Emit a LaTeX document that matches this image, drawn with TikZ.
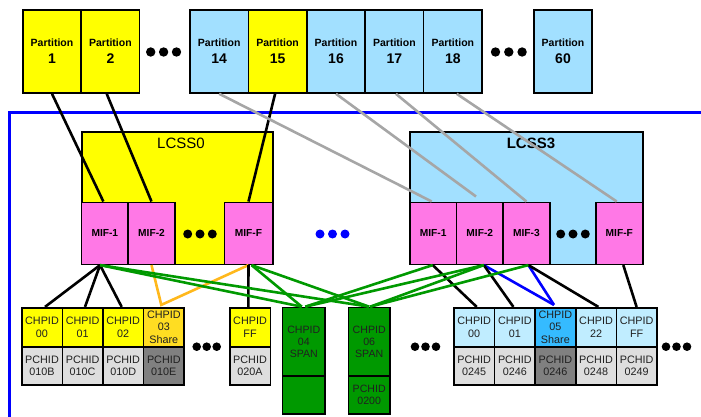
\documentclass[tikz,border=0pt]{standalone}
\usepackage{fontspec}
\setmainfont{Liberation Sans}
\definecolor{pyel}{HTML}{FFFF00}
\definecolor{pblue}{HTML}{A2E0FF}
\definecolor{cblue}{HTML}{C0EDFF}
\definecolor{sblue}{HTML}{35BBFF}
\definecolor{syel}{HTML}{FFDD22}
\definecolor{pink}{HTML}{FF78E6}
\definecolor{lgrey}{HTML}{DEDEDE}
\definecolor{dgrey}{HTML}{808080}
\definecolor{gbox}{HTML}{009900}
\definecolor{gline}{HTML}{009900}
\definecolor{oline}{HTML}{FFB81C}
\definecolor{greyline}{HTML}{A6A6A6}
\definecolor{fblue}{HTML}{0000FF}
\definecolor{tgrey}{HTML}{202020}
\newcommand{\partlbl}[1]{Partition\\{\fontsize{14}{17}\selectfont #1}}
\begin{document}
\begin{tikzpicture}[x=1pt,y=-1pt,
  bx/.style={draw=black, line width=1.6pt, inner sep=0pt, align=center},
  part/.style={bx, minimum width=58.4, minimum height=83, font=\bfseries\fontsize{10.5}{17}\selectfont},
  lcss/.style={bx, minimum height=132},
  mif/.style={bx, fill=pink, minimum width=46.6, minimum height=62, font=\bfseries\fontsize{10.2}{12}\selectfont},
  chp/.style={bx, minimum width=40.6, minimum height=39, text=tgrey, font=\fontsize{10.8}{12.8}\selectfont},
  pch/.style={bx, minimum width=40.6, minimum height=38.3, fill=lgrey, text=tgrey, font=\fontsize{10.8}{12.6}\selectfont},
  gtop/.style={bx, fill=gbox, minimum height=68.5, text=tgrey, font=\fontsize{10.6}{12.2}\selectfont},
  gbot/.style={bx, fill=gbox, minimum height=38, text=tgrey, font=\fontsize{10.6}{12.2}\selectfont},
  conn/.style={line width=2.6pt, draw=black},
  gconn/.style={line width=2.6pt, draw=greyline},
  grn/.style={line width=2.6pt, draw=gline},
  org/.style={line width=2.6pt, draw=oline, line join=miter},
  blu/.style={line width=2.6pt, draw=fblue},
  frame/.style={line width=3pt, draw=fblue}
]
\useasboundingbox (0,0) rectangle (701,417);

% frame
\draw[frame] (9,417) -- (9,112.7) -- (701,112.7);

% partitions
\node[part, fill=pyel]  (p1)  at (52,51.5)    {\partlbl{1}};
\node[part, fill=pyel]  (p2)  at (110.4,51.5) {\partlbl{2}};
\node[part, fill=pblue] (p14) at (219.2,51.5) {\partlbl{14}};
\node[part, fill=pyel]  (p15) at (277.6,51.5) {\partlbl{15}};
\node[part, fill=pblue] (p16) at (336,51.5)   {\partlbl{16}};
\node[part, fill=pblue] (p17) at (394.4,51.5) {\partlbl{17}};
\node[part, fill=pblue] (p18) at (452.8,51.5) {\partlbl{18}};
\node[part, fill=pblue] (p60) at (563,51.5)   {\partlbl{60}};
\foreach \x in {150.7,163.6,176.5,495.5,508.8,522.1} \fill (\x,52) circle (4.7);

% LCSS boxes
\node[lcss, fill=pyel, minimum width=191] (lcss0) at (177.2,198.3) {};
\node[font=\fontsize{15}{17}\selectfont] (lcss0t) at (181,143.5) {LCSS0};
\node[lcss, fill=pblue, minimum width=232.7] (lcss3) at (526.35,198.3) {};
\node[font=\bfseries\fontsize{15}{17}\selectfont] (lcss3t) at (531,143.5) {LCSS3};

% MIFs
\node[mif] (m01) at (104.85,233.3) {MIF-1};
\node[mif] (m02) at (151.5,233.3) {MIF-2};
\node[mif, minimum width=48] (m0F) at (248.5,233.3) {MIF-F};
\node[mif] (m31) at (433.2,233.3) {MIF-1};
\node[mif] (m32) at (479.8,233.3) {MIF-2};
\node[mif] (m33) at (526.4,233.3) {MIF-3};
\node[mif] (m3F) at (619.3,233.3) {MIF-F};
\foreach \x in {187.7,200,212.3,560.7,573,585.3} \fill (\x,234) circle (4.5);
\foreach \x in {320,332.5,345} \fill[fblue] (\x,234) circle (4.5);

% bottom CHPID / PCHID boxes (left)
\node[chp, fill=pyel] (cA0) at (42,327.2)    {CHPID\\00};
\node[pch] (qA0) at (42,365.85)   {PCHID\\010B};
\node[chp, fill=pyel] (cA1) at (82.6,327.2)  {CHPID\\01};
\node[pch] (qA1) at (82.6,365.85) {PCHID\\010C};
\node[chp, fill=pyel] (cA2) at (123.2,327.2) {CHPID\\02};
\node[pch] (qA2) at (123.2,365.85) {PCHID\\010D};
\node[chp, fill=syel] (cA3) at (163.8,327.2) {CHPID\\03\\Share};
\node[pch, fill=dgrey] (qA3) at (163.8,365.85) {PCHID\\010E};
\node[chp, fill=pyel] (cAF) at (250,327.2)   {CHPID\\FF};
\node[pch] (qAF) at (250,365.85)  {PCHID\\020A};
\foreach \x in {196.7,206.7,216.7} \fill (\x,346.7) circle (4.3);

% green span boxes
\node[gtop, minimum width=42.3] (g04) at (303.8,341.75) {CHPID\\04\\SPAN};
\node[gbot, minimum width=42.3] (g04b) at (303.8,395) {};
\node[gtop, minimum width=41.7] (g06) at (369.2,341.75) {CHPID\\06\\SPAN};
\node[gbot, minimum width=41.7] (g06b) at (369.2,395) {PCHID\\0200};

% right group
\node[chp, fill=cblue] (cB0) at (474.2,327.2) {CHPID\\00};
\node[pch] (qB0) at (474.2,365.85) {PCHID\\0245};
\node[chp, fill=cblue] (cB1) at (514.8,327.2) {CHPID\\01};
\node[pch] (qB1) at (514.8,365.85) {PCHID\\0246};
\node[chp, fill=sblue] (cB5) at (555.4,327.2) {CHPID\\05\\Share};
\node[pch, fill=dgrey] (qB5) at (555.4,365.85) {PCHID\\0246};
\node[chp, fill=cblue] (cB22) at (596,327.2) {CHPID\\22};
\node[pch] (qB22) at (596,365.85) {PCHID\\0248};
\node[chp, fill=cblue] (cBF) at (636.6,327.2) {CHPID\\FF};
\node[pch] (qBF) at (636.6,365.85) {PCHID\\0249};
\foreach \x in {415,425.5,436,666,676.5,687} \fill (\x,346.7) circle (4.3);

% partition -> MIF connectors
\draw[conn] (p1.south) -- ([xshift=-1.5pt]m01.north);
\draw[conn] ([xshift=-3.7pt]p2.south) -- (m02.north);
\draw[conn] ([xshift=-2.5pt]p15.south) -- (m0F.north);
\draw[gconn] (p14.south) -- ([xshift=-1.5pt]m31.north);
\draw[gconn] (p16.south) -- ([xshift=-3.8pt,yshift=5pt]m32.north);
\draw[gconn] ([xshift=1.5pt]p17.south) -- (m33.north);
\draw[gconn] ([xshift=3.9pt]p18.south) -- ([xshift=-2.6pt]m3F.north);

% MIF -> CHPID connectors
\coordinate (a1) at ([xshift=-4.8pt]m01.south);
\coordinate (aF) at ([xshift=3pt]m0F.south);
\coordinate (b1) at ([xshift=-0.5pt]m31.south);
\coordinate (b2) at ([xshift=4pt]m32.south);
\coordinate (b3) at ([xshift=2pt]m33.south);
\coordinate (s5) at ([xshift=-1.4pt,yshift=2pt]cB5.north);
\draw[org] (m02.south) -- ([xshift=-2.5pt,yshift=2pt]cA3.north) -- (m0F.south);
\draw[conn] (a1) -- ([xshift=3pt]cA0.north);
\draw[conn] (a1) -- ([xshift=2.4pt]cA1.north);
\draw[conn] (a1) -- ([xshift=-1.5pt]cA2.north);
\draw[conn] (m0F.south) -- ([xshift=-1.7pt]cAF.north);
\draw[blu] (b2) -- (s5);
\draw[blu] (b3) -- (s5);
\draw[conn] (b1) -- ([xshift=2.5pt]cB0.north);
\draw[conn] (b2) -- ([xshift=-1.4pt]cB1.north);
\draw[conn] (b3) -- ([xshift=2.4pt]cB22.north);
\draw[conn] ([xshift=4pt]m3F.south) -- (cBF.north);
\draw[grn] (a1) -- ([xshift=-2pt]g04.north);
\draw[grn] (a1) -- (g06.north);
\draw[grn] (aF) -- ([xshift=-2pt]g04.north);
\draw[grn] (aF) -- (g06.north);
\draw[grn] (b1) -- ([xshift=1.5pt]g04.north);
\draw[grn] (b2) -- ([xshift=1.5pt]g04.north);
\draw[grn] (b2) -- ([xshift=1pt]g06.north);
\draw[grn] (b3) -- ([xshift=1pt]g06.north);
\end{tikzpicture}
\end{document}
